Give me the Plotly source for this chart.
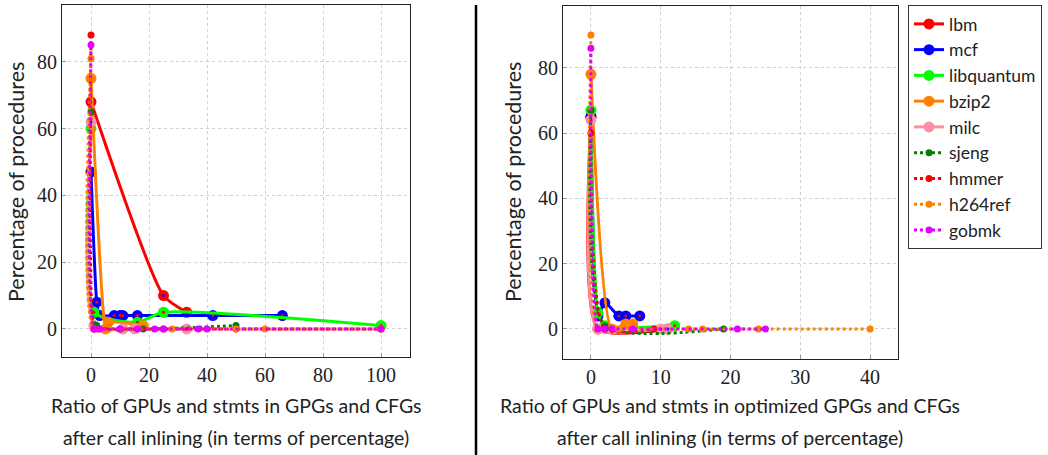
import plotly.graph_objects as go

W, H = 1048, 455

# ---------------- data: left panel (GPGs and CFGs) ----------------
lbm_x1 = [0, 25, 33]
lbm_y1 = [68, 10, 5]
mcf_x1 = [0, 2, 3, 8, 10, 11, 16, 42, 66]
mcf_y1 = [47, 8, 4, 4, 4, 4, 4, 4, 4]
libq_x1 = [0, 1, 16, 25, 100]
libq_y1 = [60, 5, 2, 5, 1]
bzip2_x1 = [0, 5, 6, 18]
bzip2_y1 = [75, 0, 2, 1]
milc_x1 = [0, 1, 11, 15, 33]
milc_y1 = [62, 1, 0, 0, 0]
sjeng_x1 = [0, 2, 18, 50]
sjeng_y1 = [65, 1, 0, 1]
hmmer_x1 = [0, 1, 2, 10, 25, 50, 100]
hmmer_y1 = [88, 0, 0, 0, 0, 0, 0]
h264_x1 = [0, 1, 10, 28, 50, 60, 100]
h264_y1 = [81, 0, 0, 0, 0, 0, 0]
gobmk_x1 = [0, 1, 3, 10, 16, 22, 25, 37, 40, 100]
gobmk_y1 = [85, 0, 0, 0, 0, 0, 0, 0, 0, 0]

# ---------------- data: right panel (optimized GPGs and CFGs) ----------------
lbm_x2 = [0, 1, 11]
lbm_y2 = [65, 0, 0]
mcf_x2 = [0, 1, 2, 4, 5, 7]
mcf_y2 = [65, 4, 8, 4, 4, 4]
libq_x2 = [0, 1, 2, 12]
libq_y2 = [67, 5, 1, 1]
bzip2_x2 = [0, 3, 5, 6]
bzip2_y2 = [78, 0, 1.5, 1.5]
milc_x2 = [0, 1, 10, 11]
milc_y2 = [64, 0, 0, 0]
sjeng_x2 = [0, 2, 19]
sjeng_y2 = [67, 1, 0]
hmmer_x2 = [0, 2, 9]
hmmer_y2 = [60, 0, 0]
h264_x2 = [0, 1, 4, 14, 16, 24, 40]
h264_y2 = [90, 0, 0, 0, 0, 0, 0]
gobmk_x2 = [0, 1, 2, 3, 6, 21, 25]
gobmk_y2 = [86, 0, 0, 0, 0, 0, 0]

names = ["lbm", "mcf", "libquantum", "bzip2", "milc", "sjeng", "hmmer", "h264ref", "gobmk"]
colors = ["#ff0000", "#0000ff", "#00ff00", "#ff8000", "#ff8fa3",
          "#008000", "#ff0000", "#ff8000", "#e100ff"]
dotcol = ["#0000ff", "#ff0000", "#ff0000", None, "#0000ff", None, None, None, None]
solid = [True, True, True, True, True, False, False, False, False]

left = [(lbm_x1, lbm_y1), (mcf_x1, mcf_y1), (libq_x1, libq_y1), (bzip2_x1, bzip2_y1),
        (milc_x1, milc_y1), (sjeng_x1, sjeng_y1), (hmmer_x1, hmmer_y1),
        (h264_x1, h264_y1), (gobmk_x1, gobmk_y1)]
right = [(lbm_x2, lbm_y2), (mcf_x2, mcf_y2), (libq_x2, libq_y2), (bzip2_x2, bzip2_y2),
         (milc_x2, milc_y2), (sjeng_x2, sjeng_y2), (hmmer_x2, hmmer_y2),
         (h264_x2, h264_y2), (gobmk_x2, gobmk_y2)]

SM = 0.6
fig = go.Figure()

for panel, (data, xa, ya) in enumerate([(left, "x", "y"), (right, "x2", "y2")]):
    for i, (xs, ys) in enumerate(data):
        if solid[i]:
            line = dict(color=colors[i], width=3, shape="spline", smoothing=SM)
            marker = dict(symbol="circle", size=11, color=colors[i])
        else:
            line = dict(color=colors[i], width=3, shape="spline", smoothing=SM, dash="3px,3px")
            marker = dict(symbol="circle", size=7, color=colors[i])
        fig.add_trace(go.Scatter(
            x=xs, y=ys, mode="lines+markers", name=names[i],
            line=line, marker=marker, xaxis=xa, yaxis=ya,
            showlegend=(panel == 0)))
        if dotcol[i]:
            fig.add_trace(go.Scatter(
                x=xs, y=ys, mode="markers", xaxis=xa, yaxis=ya,
                marker=dict(symbol="circle", size=3, color=dotcol[i]),
                showlegend=False, hoverinfo="skip"))

tickfont = dict(family="Liberation Serif", size=20, color="#222")
common = dict(showline=True, linecolor="#222", linewidth=1.2, mirror=True,
              showgrid=True, gridcolor="#d0d0d0", griddash="dot", gridwidth=1,
              ticks="inside", ticklen=4, tickcolor="#999", zeroline=False,
              tickfont=tickfont)

fig.update_layout(
    width=W, height=H,
    margin=dict(l=0, r=0, t=0, b=0),
    plot_bgcolor="white", paper_bgcolor="white",
    xaxis=dict(domain=[62 / W, 410 / W], range=[-10, 110], tickvals=[0, 20, 40, 60, 80, 100],
               anchor="y", **common),
    yaxis=dict(domain=[(H - 357) / H, (H - 5) / H], range=[-8.4, 97], tickvals=[0, 20, 40, 60, 80],
               anchor="x", **common),
    xaxis2=dict(domain=[563 / W, 898 / W], range=[-4, 44], tickvals=[0, 10, 20, 30, 40],
                anchor="y2", **common),
    yaxis2=dict(domain=[(H - 359) / H, (H - 5.7) / H], range=[-9.2, 99], tickvals=[0, 20, 40, 60, 80],
                anchor="x2", **common),
    legend=dict(x=908 / W, y=1 - 5 / H, xanchor="left", yanchor="top",
                bordercolor="#333", borderwidth=1, bgcolor="white",
                font=dict(family="Lato", size=17.5, color="#222"),
                itemwidth=30, tracegroupgap=0),
    showlegend=True,
)

tfx = dict(family="Lato", size=19.5, color="#222")
tfy = dict(family="Lato", size=21.5, color="#222")
ann = [
    dict(text="Percentage of procedures", x=16 / W, y=1 - 182 / H, textangle=-90, font=tfy),
    dict(text="Percentage of procedures", x=513 / W, y=1 - 182 / H, textangle=-90, font=tfy),
    dict(text="Ratio of GPUs and stmts in GPGs and CFGs", x=236 / W, y=1 - 405 / H, font=tfx),
    dict(text="after call inlining (in terms of percentage)", x=236 / W, y=1 - 437 / H, font=tfx),
    dict(text="Ratio of GPUs and stmts in optimized GPGs and CFGs", x=730 / W, y=1 - 405 / H, font=tfx),
    dict(text="after call inlining (in terms of percentage)", x=730 / W, y=1 - 437 / H, font=tfx),
]
for a in ann:
    fig.add_annotation(xref="paper", yref="paper", xanchor="center", yanchor="middle",
                       showarrow=False, **a)

fig.add_shape(type="line", xref="paper", yref="paper", x0=476 / W, x1=476 / W,
              y0=0, y1=1 - 5 / H, line=dict(color="black", width=2.5))

fig.write_html("out.html", config={"displayModeBar": False},
               post_script="document.body.style.margin='0';")
